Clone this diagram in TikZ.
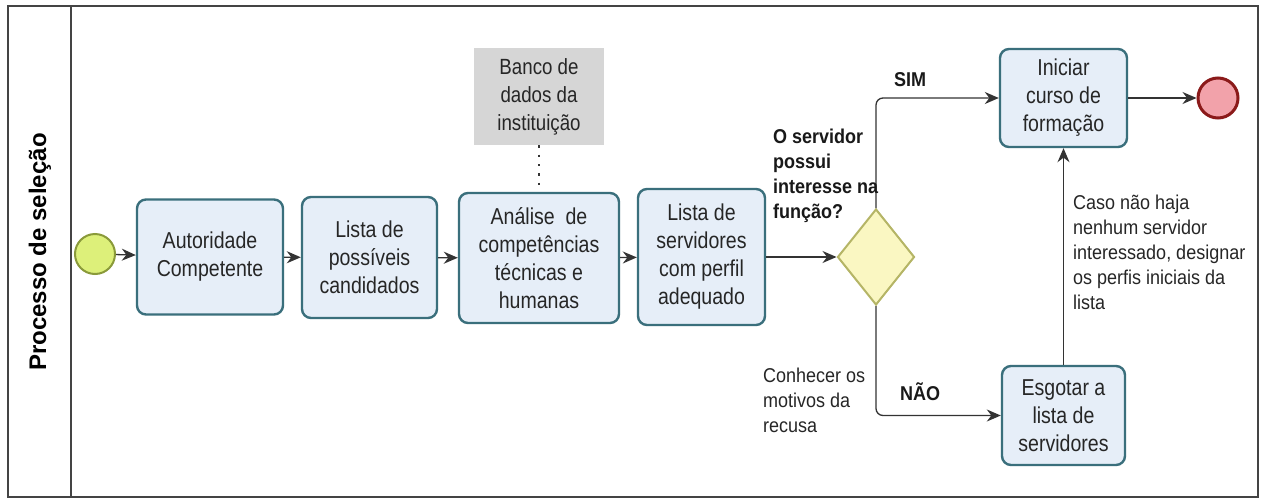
\documentclass[tikz,border=0pt]{standalone}
\usepackage{fontspec}
\setmainfont{Liberation Sans}[FakeStretch=0.9]
\newfontfamily\lanefont{Liberation Sans}
\newfontfamily\boxfont{Liberation Sans}[FakeStretch=0.85]
\usetikzlibrary{shapes.geometric,arrows.meta}
\definecolor{boxline}{HTML}{3A6F7C}
\definecolor{boxfill}{HTML}{E6EEF8}
\definecolor{startfill}{HTML}{DDF07A}
\definecolor{startline}{HTML}{8A9A3A}
\definecolor{endfill}{HTML}{F2A2AA}
\definecolor{endline}{HTML}{8B1A1A}
\definecolor{diafill}{HTML}{FAF7C2}
\definecolor{dialine}{HTML}{B5B566}
\definecolor{bancofill}{HTML}{D6D6D6}
\definecolor{frameline}{HTML}{444444}
\tikzset{
  task/.style={draw=boxline, fill=boxfill, line width=2.4pt, rounded corners=9pt,
    align=center, inner sep=0pt, font=\boxfont\fontsize{23}{28}\selectfont, text=black!85},
  flow/.style={draw=black!80, line width=1.3pt, -{Stealth[length=14pt,width=12pt]}},
  lbl/.style={align=left, inner sep=0pt, font=\fontsize{20}{25}\selectfont, text=black!85},
  blbl/.style={align=left, inner sep=0pt, font=\fontsize{20}{25}\selectfont\bfseries, text=black!90},
}
\begin{document}
\begin{tikzpicture}[x=1pt,y=-1pt]
\useasboundingbox (0,0) rectangle (1266,498);
\fill[white] (0,0) rectangle (1266,498);
% frame and lane
\draw[frameline, line width=1.3pt] (8,6) rectangle (1258,497);
\draw[frameline, line width=1.3pt] (71,6) -- (71,497);
\node[rotate=90, inner sep=0pt, font=\lanefont\fontsize{24}{28}\selectfont\bfseries] (lane) at (40,252) {Processo de seleção};
% events
\node[circle, draw=startline, fill=startfill, line width=2pt, minimum size=40pt, inner sep=0pt] (start) at (95,254) {};
\node[circle, draw=endline, fill=endfill, line width=3pt, minimum size=40pt, inner sep=0pt] (end) at (1218,98) {};
% tasks
\node[task, minimum width=146pt, minimum height=115pt] (a1) at (210,257) {Autoridade\\Competente};
\node[task, minimum width=135pt, minimum height=121pt] (a2) at (369.5,257.5) {Lista de\\possíveis\\candidados};
\node[task, minimum width=160pt, minimum height=130pt] (a3) at (539,258) {Análise \ de\\competências\\técnicas e\\humanas};
\node[task, minimum width=127pt, minimum height=136pt] (a4) at (701.5,257) {Lista de\\servidores\\com perfil\\adequado};
\node[task, minimum width=127pt, minimum height=98pt] (ini) at (1063.5,98) {Iniciar\\curso de\\formação};
\node[task, minimum width=123pt, minimum height=99pt] (esg) at (1063.5,415.5) {Esgotar a\\lista de\\servidores};
% data
\node[fill=bancofill, minimum width=130pt, minimum height=97pt, inner sep=0pt, align=center,
  font=\boxfont\fontsize{22}{28}\selectfont, text=black!85] (banco) at (539,96.5) {Banco de\\dados da\\instituição};
% gateway
\node[diamond, draw=dialine, fill=diafill, line width=2pt, minimum width=77pt, minimum height=96pt, inner sep=0pt, aspect=0.8] (dia) at (876,257) {};
% connectors
\draw[flow] (start) -- (a1);
\draw[flow] (a1) -- (a2);
\draw[flow] (a2) -- (a3);
\draw[flow] (a3) -- (a4);
\draw[flow] (a4) -- (dia.west);
\draw[flow, rounded corners=7pt] (dia.north) |- (ini.west);
\draw[flow, rounded corners=7pt] (dia.south) |- (esg.west);
\draw[flow] (ini) -- (end);
\draw[flow] (esg.north) -- (ini.south);
\draw[black!80, line width=2.4pt, dash pattern=on 2.4pt off 7pt] (banco.south) -- (a3.north);
% labels
\node[blbl, anchor=west] (q) at (773,175.5) {O servidor\\possui\\interesse na\\função?};
\node[blbl, anchor=center] (sim) at (910,80) {SIM};
\node[blbl, anchor=center] (nao) at (920,392) {NÃO};
\node[lbl, anchor=west] (rec) at (763,400.5) {Conhecer os\\motivos da\\recusa};
\node[lbl, anchor=west] (caso) at (1073,252) {Caso não haja\\nenhum servidor\\interessado, designar\\os perfis iniciais da\\lista};
\end{tikzpicture}
\end{document}
